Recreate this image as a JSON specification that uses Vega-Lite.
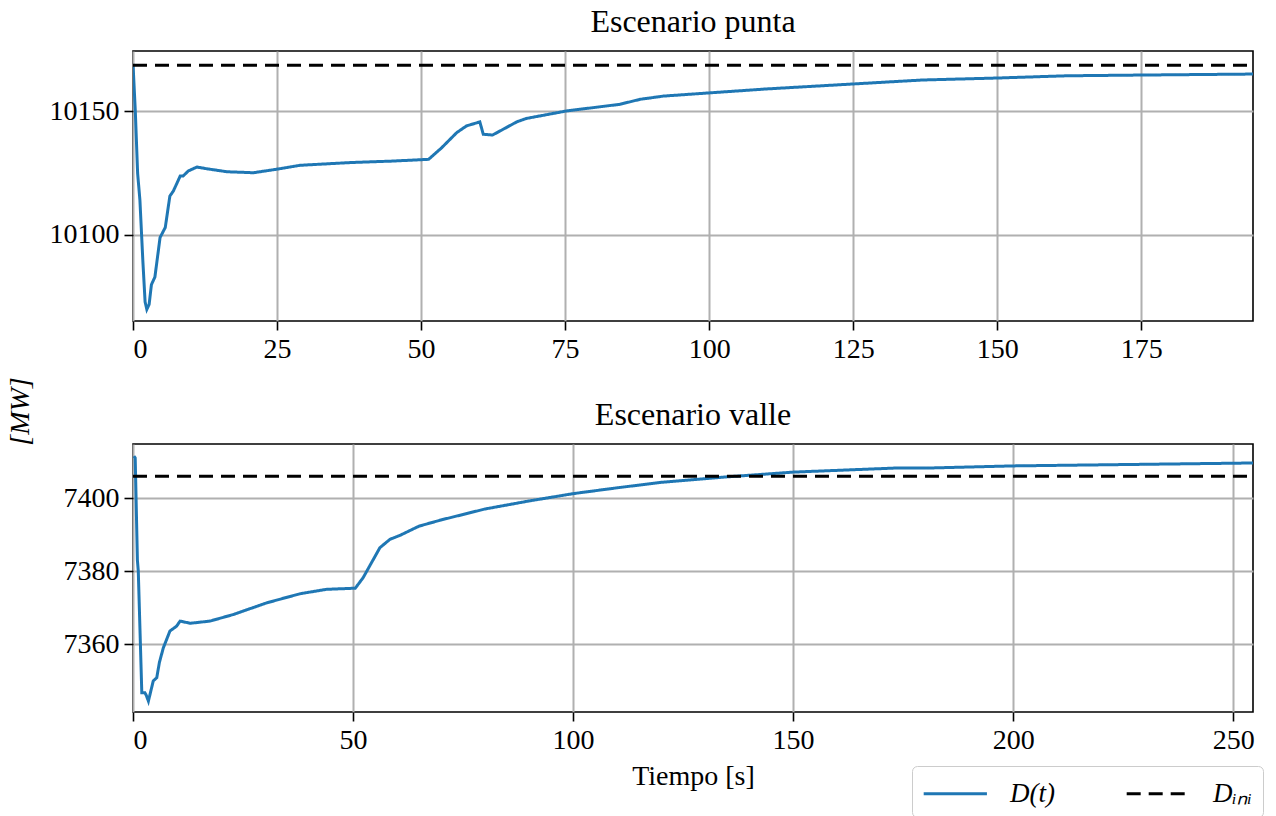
{
  "$schema": "https://vega.github.io/schema/vega-lite/v6.json",
  "autosize": {"type": "pad"},
  "padding": {"left": 5, "top": 5, "right": 0, "bottom": 0},
  "background": "white",
  "bounds": "flush",
  "spacing": 123,
  "config": {
    "font": "Liberation Serif",
    "view": {"stroke": "black", "strokeWidth": 1.6},
    "axis": {
      "labelFont": "Liberation Serif", "labelFontSize": 28, "labelColor": "black",
      "titleFont": "Liberation Serif", "titleFontSize": 28, "titleFontWeight": "normal", "titleColor": "black",
      "gridColor": "#b0b0b0", "gridWidth": 2, "gridOpacity": 1,
      "tickColor": "black", "tickSize": 9, "tickWidth": 1.6,
      "domain": false, "labelPadding": 5
    },
    "title": {"font": "Liberation Serif", "fontSize": 32, "fontWeight": "normal", "color": "black", "offset": 12}
  },
  "datasets": {
    "punta": [
      {"t": 0, "v": 10169, "s": "D(t)"},
      {"t": 0.4, "v": 10150, "s": "D(t)"},
      {"t": 0.8, "v": 10125, "s": "D(t)"},
      {"t": 1.2, "v": 10114, "s": "D(t)"},
      {"t": 1.7, "v": 10090, "s": "D(t)"},
      {"t": 2.1, "v": 10073, "s": "D(t)"},
      {"t": 2.4, "v": 10070, "s": "D(t)"},
      {"t": 2.8, "v": 10072, "s": "D(t)"},
      {"t": 3.2, "v": 10080, "s": "D(t)"},
      {"t": 3.8, "v": 10083, "s": "D(t)"},
      {"t": 4.7, "v": 10099, "s": "D(t)"},
      {"t": 5.6, "v": 10103, "s": "D(t)"},
      {"t": 6.4, "v": 10115.7, "s": "D(t)"},
      {"t": 7.0, "v": 10117.7, "s": "D(t)"},
      {"t": 8.2, "v": 10123.8, "s": "D(t)"},
      {"t": 8.7, "v": 10123.8, "s": "D(t)"},
      {"t": 9.6, "v": 10125.8, "s": "D(t)"},
      {"t": 11.1, "v": 10127.4, "s": "D(t)"},
      {"t": 12.8, "v": 10126.7, "s": "D(t)"},
      {"t": 16.3, "v": 10125.5, "s": "D(t)"},
      {"t": 20.9, "v": 10125.1, "s": "D(t)"},
      {"t": 24.9, "v": 10126.5, "s": "D(t)"},
      {"t": 29, "v": 10128.1, "s": "D(t)"},
      {"t": 37.7, "v": 10129.2, "s": "D(t)"},
      {"t": 45, "v": 10129.8, "s": "D(t)"},
      {"t": 51.3, "v": 10130.5, "s": "D(t)"},
      {"t": 53.5, "v": 10135, "s": "D(t)"},
      {"t": 56.2, "v": 10141.3, "s": "D(t)"},
      {"t": 57.9, "v": 10144, "s": "D(t)"},
      {"t": 60.2, "v": 10145.6, "s": "D(t)"},
      {"t": 60.8, "v": 10140.6, "s": "D(t)"},
      {"t": 62.4, "v": 10140.3, "s": "D(t)"},
      {"t": 66.6, "v": 10145.6, "s": "D(t)"},
      {"t": 68.3, "v": 10147, "s": "D(t)"},
      {"t": 75.2, "v": 10150, "s": "D(t)"},
      {"t": 84.5, "v": 10152.7, "s": "D(t)"},
      {"t": 88, "v": 10154.7, "s": "D(t)"},
      {"t": 92, "v": 10156, "s": "D(t)"},
      {"t": 100, "v": 10157.3, "s": "D(t)"},
      {"t": 110, "v": 10158.9, "s": "D(t)"},
      {"t": 125, "v": 10160.9, "s": "D(t)"},
      {"t": 137, "v": 10162.5, "s": "D(t)"},
      {"t": 150, "v": 10163.3, "s": "D(t)"},
      {"t": 162, "v": 10164.2, "s": "D(t)"},
      {"t": 175, "v": 10164.5, "s": "D(t)"},
      {"t": 194.4, "v": 10164.9, "s": "D(t)"},
      {"t": 0, "v": 10168.5, "s": "Dᵢₙᵢ"},
      {"t": 194.4, "v": 10168.5, "s": "Dᵢₙᵢ"}
    ],
    "valle": [
      {"t": 0.2, "v": 7411.5, "s": "D(t)"},
      {"t": 0.5, "v": 7411, "s": "D(t)"},
      {"t": 1.0, "v": 7383, "s": "D(t)"},
      {"t": 1.2, "v": 7380, "s": "D(t)"},
      {"t": 2.0, "v": 7346.7, "s": "D(t)"},
      {"t": 2.7, "v": 7346.7, "s": "D(t)"},
      {"t": 3.0, "v": 7346, "s": "D(t)"},
      {"t": 3.5, "v": 7344.4, "s": "D(t)"},
      {"t": 4.6, "v": 7349.9, "s": "D(t)"},
      {"t": 5.4, "v": 7350.8, "s": "D(t)"},
      {"t": 6.0, "v": 7355, "s": "D(t)"},
      {"t": 6.9, "v": 7359, "s": "D(t)"},
      {"t": 8.4, "v": 7363.6, "s": "D(t)"},
      {"t": 9.9, "v": 7364.9, "s": "D(t)"},
      {"t": 10.7, "v": 7366.3, "s": "D(t)"},
      {"t": 13, "v": 7365.7, "s": "D(t)"},
      {"t": 17.5, "v": 7366.3, "s": "D(t)"},
      {"t": 22.8, "v": 7368.1, "s": "D(t)"},
      {"t": 30.4, "v": 7371.3, "s": "D(t)"},
      {"t": 38, "v": 7373.8, "s": "D(t)"},
      {"t": 44, "v": 7375, "s": "D(t)"},
      {"t": 50.5, "v": 7375.3, "s": "D(t)"},
      {"t": 52.3, "v": 7378.2, "s": "D(t)"},
      {"t": 56.1, "v": 7386.4, "s": "D(t)"},
      {"t": 58.4, "v": 7388.7, "s": "D(t)"},
      {"t": 60.7, "v": 7389.8, "s": "D(t)"},
      {"t": 65, "v": 7392.3, "s": "D(t)"},
      {"t": 70, "v": 7394, "s": "D(t)"},
      {"t": 80, "v": 7397, "s": "D(t)"},
      {"t": 90, "v": 7399.2, "s": "D(t)"},
      {"t": 100, "v": 7401.2, "s": "D(t)"},
      {"t": 110, "v": 7402.8, "s": "D(t)"},
      {"t": 120, "v": 7404.3, "s": "D(t)"},
      {"t": 135, "v": 7405.8, "s": "D(t)"},
      {"t": 150, "v": 7407.1, "s": "D(t)"},
      {"t": 173, "v": 7408.2, "s": "D(t)"},
      {"t": 180, "v": 7408.2, "s": "D(t)"},
      {"t": 200, "v": 7408.8, "s": "D(t)"},
      {"t": 254.5, "v": 7409.6, "s": "D(t)"},
      {"t": 0, "v": 7406, "s": "Dᵢₙᵢ"},
      {"t": 254.5, "v": 7406, "s": "Dᵢₙᵢ"}
    ]
  },
  "resolve": {"scale": {"color": "independent", "strokeDash": "independent"}, "legend": {"color": "independent", "strokeDash": "independent"}},
  "vconcat": [
    {
      "width": 1120,
      "height": 270,
      "title": "Escenario punta",
      "data": {"name": "punta"},
      "mark": {"type": "line", "strokeWidth": 3, "clip": true},
      "encoding": {
        "x": {"field": "t", "type": "quantitative", "scale": {"domain": [0, 194.4], "nice": false, "zero": false},
              "axis": {"values": [0, 25, 50, 75, 100, 125, 150, 175], "title": null}},
        "y": {"field": "v", "type": "quantitative", "scale": {"domain": [10065.3, 10174.2], "nice": false, "zero": false},
              "axis": {"values": [10100, 10150], "format": "d", "title": "[MW]", "titleFontStyle": "italic", "titleX": -113, "titleY": 360, "titleAngle": -90, "titleAlign": "center", "titleBaseline": "middle"}},
        "color": {"field": "s", "type": "nominal", "scale": {"domain": ["D(t)", "Dᵢₙᵢ"], "range": ["#1f77b4", "black"]}, "legend": null},
        "strokeDash": {"field": "s", "type": "nominal", "scale": {"domain": ["D(t)", "Dᵢₙᵢ"], "range": [[1, 0], [14, 8]]}, "legend": null}
      }
    },
    {
      "width": 1120,
      "height": 268,
      "title": "Escenario valle",
      "data": {"name": "valle"},
      "mark": {"type": "line", "strokeWidth": 3, "clip": true},
      "encoding": {
        "x": {"field": "t", "type": "quantitative", "scale": {"domain": [0, 254.5], "nice": false, "zero": false},
              "axis": {"values": [0, 50, 100, 150, 200, 250], "title": "Tiempo [s]", "titlePadding": 8}},
        "y": {"field": "v", "type": "quantitative", "scale": {"domain": [7341.4, 7414.8], "nice": false, "zero": false},
              "axis": {"values": [7360, 7380, 7400], "format": "d", "title": null}},
        "color": {"field": "s", "type": "nominal", "scale": {"domain": ["D(t)", "Dᵢₙᵢ"], "range": ["#1f77b4", "black"]},
                  "legend": {"orient": "none", "legendX": 779, "legendY": 322, "direction": "horizontal", "title": null,
                             "labelFontSize": 27, "labelFontStyle": "italic", "labelFont": "Liberation Serif", "labelColor": "black",
                             "symbolSize": 1000, "symbolStrokeWidth": 3, "symbolType": "M-1,0H3", "labelOffset": 53, "columnPadding": 65,
                             "padding": 10, "strokeColor": "#cccccc", "fillColor": "white", "cornerRadius": 5}},
        "strokeDash": {"field": "s", "type": "nominal", "scale": {"domain": ["D(t)", "Dᵢₙᵢ"], "range": [[1, 0], [14, 8]]}}
      }
    }
  ]
}
